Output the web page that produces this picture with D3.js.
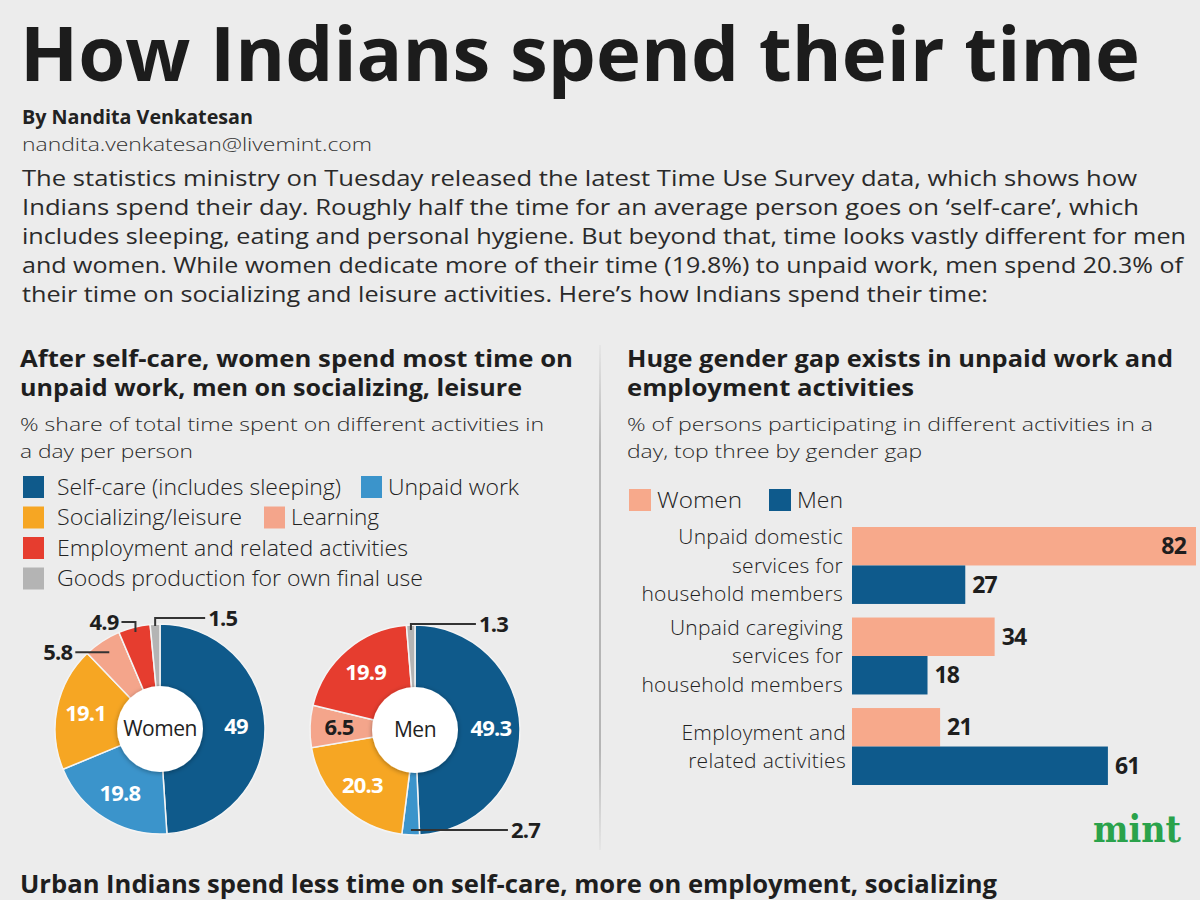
<!DOCTYPE html>
<html>
<head>
<meta charset="utf-8">
<script src="https://cdn.jsdelivr.net/npm/d3@7"></script>
<style>
  body { margin: 0; background: #ececec; }
  svg text { font-family: "Open Sans", "Noto Sans", sans-serif; }
</style>
</head>
<body>
<svg id="chart"></svg>
<script>
// activity categories and colours (donut legend)
const activities = ['Self-care (includes sleeping)', 'Unpaid work', 'Socializing/leisure', 'Learning',
  'Employment and related activities', 'Goods production for own final use'];
const activityColors = ['#0f5a8b', '#3b94cb', '#f6a623', '#f4a58b', '#e63d2f', '#b4b4b4'];
const legendWidths = [284, 131, 185, 88, 351, 366];

// % share of time, in drawing order (clockwise from top)
const womenOrder = [0, 1, 2, 3, 4, 5];
const womenShare = [49, 19.8, 19.1, 5.8, 4.9, 1.5];
const menOrder = [0, 1, 2, 3, 4, 5];
const menShare = [49.3, 2.7, 20.3, 6.5, 19.9, 1.3];

// gender gap bars
const gapCategories = ['domestic', 'caregiving', 'employment'];
const gapLabels = [
  ['Unpaid domestic', 'services for', 'household members'],
  ['Unpaid caregiving', 'services for', 'household members'],
  ['Employment and', 'related activities']
];
const gapWomen = [82, 34, 21];
const gapMen = [27, 18, 61];
const genders = ['Women', 'Men'];
const genderColors = ['#f7a98b', '#0e5a8c'];

const introLines = [
  "The statistics ministry on Tuesday released the latest Time Use Survey data, which shows how",
  "Indians spend their day. Roughly half the time for an average person goes on \u2018self-care\u2019, which",
  "includes sleeping, eating and personal hygiene. But beyond that, time looks vastly different for men",
  "and women. While women dedicate more of their time (19.8%) to unpaid work, men spend 20.3% of",
  "their time on socializing and leisure activities. Here\u2019s how Indians spend their time:"
];
const introWidths = [1115, 1117, 1164, 1161, 966];

const width = 1200, height = 900;
const svg = d3.select("#chart").attr("width", width).attr("height", height);

svg.append("rect").attr("width", width).attr("height", height).attr("fill", "#ececec");

const defs = svg.append("defs");
const grad = defs.append("linearGradient").attr("id", "divider").attr("x1", 0).attr("x2", 0).attr("y1", 0).attr("y2", 1);
grad.append("stop").attr("offset", "0%").attr("stop-color", "#b5b5b5").attr("stop-opacity", 0.1);
grad.append("stop").attr("offset", "20%").attr("stop-color", "#b5b5b5").attr("stop-opacity", 1);
grad.append("stop").attr("offset", "80%").attr("stop-color", "#b5b5b5").attr("stop-opacity", 1);
grad.append("stop").attr("offset", "100%").attr("stop-color", "#b5b5b5").attr("stop-opacity", 0.1);
defs.append("filter").attr("id", "shadow").attr("x", "-30%").attr("y", "-30%").attr("width", "160%").attr("height", "160%")
  .append("feDropShadow").attr("dx", 0).attr("dy", 1).attr("stdDeviation", 2.5).attr("flood-color", "#000").attr("flood-opacity", 0.35);

// header
svg.append("text").attr("x", 20).attr("y", 81)
  .attr("font-size", 75).attr("font-weight", 700).attr("fill", "#1c1c1c")
  .attr("textLength", 1120).attr("lengthAdjust", "spacingAndGlyphs")
  .text("How Indians spend their time");

svg.append("text").attr("x", 22).attr("y", 124)
  .attr("font-size", 19).attr("font-weight", 700).attr("fill", "#222")
  .attr("textLength", 231).attr("lengthAdjust", "spacingAndGlyphs")
  .text("By Nandita Venkatesan");
svg.append("text").attr("x", 22).attr("y", 151)
  .attr("font-size", 19).attr("font-weight", 300).attr("fill", "#333")
  .attr("textLength", 350).attr("lengthAdjust", "spacingAndGlyphs")
  .text("nandita.venkatesan@livemint.com");

svg.append("g").selectAll("text")
  .data(introLines)
  .enter().append("text")
  .attr("x", 22)
  .attr("y", (d, i) => 186 + i * 29)
  .attr("font-size", 22).attr("fill", "#2a2a2a")
  .attr("textLength", (d, i) => introWidths[i]).attr("lengthAdjust", "spacingAndGlyphs")
  .text(d => d);

// divider between the panels
svg.append("rect").attr("x", 599).attr("y", 345).attr("width", 2).attr("height", 505).attr("fill", "url(#divider)");

// panel headings
function heading(x, lines, lens, subs, subLens) {
  lines.forEach((t, i) => {
    svg.append("text").attr("x", x).attr("y", 367 + i * 29)
      .attr("font-size", 23).attr("font-weight", 700).attr("fill", "#1e1e1e")
      .attr("textLength", lens[i]).attr("lengthAdjust", "spacingAndGlyphs")
      .text(t);
  });
  subs.forEach((t, i) => {
    svg.append("text").attr("x", x).attr("y", 431 + i * 27)
      .attr("font-size", 19).attr("font-weight", 300).attr("fill", "#2a2a2a")
      .attr("textLength", subLens[i]).attr("lengthAdjust", "spacingAndGlyphs")
      .text(t);
  });
}
heading(20, ["After self-care, women spend most time on", "unpaid work, men on socializing, leisure"], [553, 502],
  ["% share of total time spent on different activities in", "a day per person"], [524, 173]);
heading(627, ["Huge gender gap exists in unpaid work and", "employment activities"], [546, 287],
  ["% of persons participating in different activities in a", "day, top three by gender gap"], [526, 295]);

// donut legend
const legendRows = [[0, 1], [2, 3], [4], [5]];
const legendX = [[23, 361], [23, 264], [23], [23]];
const legend = svg.append("g");
legendRows.forEach((row, r) => {
  row.forEach((k, j) => {
    const x = legendX[r][j];
    const y = 487 + r * 30.5;
    legend.append("rect").attr("x", x).attr("y", y - 11).attr("width", 21).attr("height", 22).attr("fill", activityColors[k]);
    legend.append("text").attr("x", x + (j === 0 ? 34 : 27)).attr("y", y).attr("dy", "0.35em")
      .attr("font-size", 22).attr("font-weight", 300).attr("fill", "#222")
      .attr("textLength", legendWidths[k]).attr("lengthAdjust", "spacingAndGlyphs")
      .text(activities[k]);
  });
});

// donuts
const outerR = 105, innerR = 40;
const pie = d3.pie().sort(null).value(d => d.value).startAngle(0).endAngle(2 * Math.PI);
const arc = d3.arc().innerRadius(innerR).outerRadius(outerR);
const labelArc = d3.arc().innerRadius(48).outerRadius(104);

function donut(cx, cy, order, shares, name, inside, leaders) {
  const data = order.map((k, i) => ({ key: k, value: shares[i] }));
  const arcs = pie(data);
  const g = svg.append("g").attr("transform", `translate(${cx},${cy})`);

  g.selectAll("path")
    .data(arcs)
    .enter().append("path")
    .attr("d", arc)
    .attr("fill", d => activityColors[d.data.key])
    .attr("stroke", "#f4f4f4")
    .attr("stroke-width", 1.5);

  g.append("circle").attr("r", innerR + 3).attr("fill", "#fff").attr("filter", "url(#shadow)");
  g.append("text").attr("text-anchor", "middle").attr("dy", "0.35em")
    .attr("font-size", 21).attr("fill", "#222").attr("letter-spacing", -0.5)
    .text(name);

  // labels sitting inside the slices
  arcs.filter(d => inside.includes(d.data.key)).forEach(d => {
    const c = labelArc.centroid(d);
    g.append("text").attr("x", c[0]).attr("y", c[1]).attr("dy", "0.35em")
      .attr("text-anchor", "middle")
      .attr("font-size", 22).attr("font-weight", 700)
      .attr("fill", d.data.key === 3 ? "#1e1e1e" : "#fff")
      .attr("letter-spacing", -0.8)
      .text(d.value);
  });

  // leader labels for thin slices
  leaders.forEach(l => {
    const d = arcs.find(a => a.data.key === l.key);
    const mid = (d.startAngle + d.endAngle) / 2;
    const px = Math.sin(mid) * l.r, py = -Math.cos(mid) * l.r;
    let pts, tx, ty;
    if (l.up) {
      ty = py - l.up;
      tx = px + l.len * l.dir;
      pts = [[px, py], [px, ty], [tx, ty]];
    } else {
      ty = py;
      tx = px + l.len * l.dir;
      pts = [[px, py], [tx, ty]];
    }
    g.append("path").attr("d", d3.line()(pts)).attr("fill", "none").attr("stroke", "#333").attr("stroke-width", 2);
    g.append("text").attr("x", tx + 3 * l.dir).attr("y", ty).attr("dy", "0.35em")
      .attr("text-anchor", l.dir > 0 ? "start" : "end")
      .attr("font-size", 22).attr("font-weight", 700).attr("fill", "#1e1e1e").attr("letter-spacing", -0.8)
      .text(d.value);
  });
}

donut(160, 729, womenOrder, womenShare, "Women", [0, 1, 2],
  [{ key: 4, r: 100, up: 10, len: 14, dir: -1 },
   { key: 5, r: 103, up: 8, len: 50, dir: 1 },
   { key: 3, r: 92, len: 34, dir: -1 }]);
donut(415, 730, menOrder, menShare, "Men", [0, 2, 3, 4],
  [{ key: 5, r: 100, up: 6, len: 65, dir: 1 },
   { key: 1, r: 100, len: 97, dir: 1 }]);

// gender gap bar chart
const x = d3.scaleLinear().domain([0, 82]).range([852, 1196]);
const y = d3.scaleBand().domain(gapCategories).range([527, 785]).paddingInner(0.15).paddingOuter(0);
const yInner = d3.scaleBand().domain(genders).range([0, y.bandwidth()]);

const barLegend = svg.append("g");
genders.forEach((gname, i) => {
  const lx = [629, 769][i];
  barLegend.append("rect").attr("x", lx).attr("y", 489).attr("width", 22).attr("height", 22).attr("fill", genderColors[i]);
  barLegend.append("text").attr("x", lx + 28).attr("y", 500).attr("dy", "0.35em")
    .attr("font-size", 22).attr("font-weight", 300).attr("fill", "#222")
    .attr("textLength", [85, 46][i]).attr("lengthAdjust", "spacingAndGlyphs")
    .text(gname);
});

const barData = gapCategories.flatMap((c, i) => [
  { cat: c, gender: 'Women', value: gapWomen[i] },
  { cat: c, gender: 'Men', value: gapMen[i] }
]);

const bars = svg.append("g");
bars.selectAll("rect")
  .data(barData)
  .enter().append("rect")
  .attr("x", x(0))
  .attr("y", d => y(d.cat) + yInner(d.gender))
  .attr("width", d => x(d.value) - x(0))
  .attr("height", yInner.bandwidth())
  .attr("fill", d => genderColors[genders.indexOf(d.gender)]);

bars.selectAll("text.value")
  .data(barData)
  .enter().append("text")
  .attr("class", "value")
  .attr("x", d => x(d.value) > 1150 ? x(d.value) - 10 : x(d.value) + 7)
  .attr("y", d => y(d.cat) + yInner(d.gender) + yInner.bandwidth() / 2)
  .attr("dy", "0.35em")
  .attr("text-anchor", d => x(d.value) > 1150 ? "end" : "start")
  .attr("font-size", 23).attr("font-weight", 700).attr("fill", "#1e1e1e").attr("letter-spacing", -0.8)
  .text(d => d.value);

gapCategories.forEach((c, i) => {
  const lines = gapLabels[i];
  const cy = y(c) + y.bandwidth() / 2;
  lines.forEach((t, j) => {
    bars.append("text")
      .attr("x", lines.length === 2 ? 846 : 843)
      .attr("y", cy + (j - (lines.length - 1) / 2) * 28.5)
      .attr("dy", "0.35em")
      .attr("text-anchor", "end")
      .attr("font-size", 21).attr("font-weight", 300).attr("fill", "#222")
      .attr("letter-spacing", 0.3)
      .text(t);
  });
});

// mint logo
svg.append("text").attr("x", 1093).attr("y", 842)
  .attr("font-size", 38).attr("font-weight", 700)
  .attr("fill", "#2aa24b").attr("textLength", 88).attr("lengthAdjust", "spacingAndGlyphs")
  .style("font-family", "'DejaVu Serif', serif")
  .text("mint");

// next section heading
svg.append("text").attr("x", 20).attr("y", 893)
  .attr("font-size", 25).attr("font-weight", 700).attr("fill", "#1e1e1e")
  .attr("textLength", 977).attr("lengthAdjust", "spacingAndGlyphs")
  .text("Urban Indians spend less time on self-care, more on employment, socializing");
</script>
</body>
</html>
